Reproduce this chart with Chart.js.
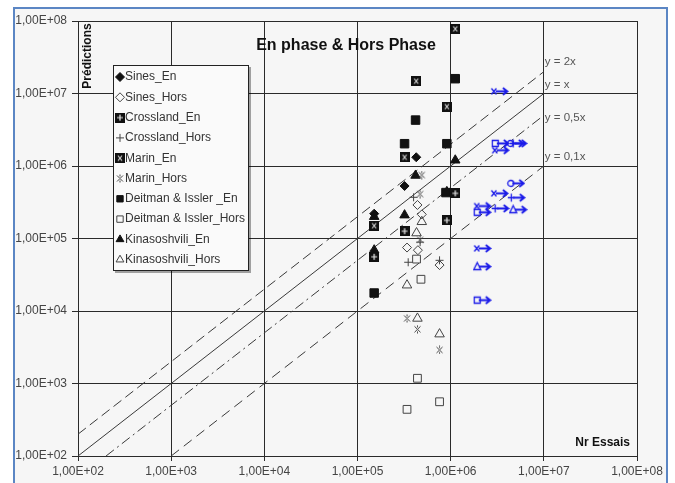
<!DOCTYPE html>
<html>
<head>
<meta charset="utf-8">
<script src="https://cdn.jsdelivr.net/npm/chart.js@4/dist/chart.umd.min.js"></script>
<style>
  html, body { margin: 0; padding: 0; background: #fff; }
  canvas { display: block; }
</style>
</head>
<body>
<canvas id="c" width="675" height="483" style="width:675px;height:483px"></canvas>
<script>
// Axis ticks (log decades) and their labels
const tickValues = [1e2, 1e3, 1e4, 1e5, 1e6, 1e7, 1e8];
const tickLabels = ['1,00E+02', '1,00E+03', '1,00E+04', '1,00E+05', '1,00E+06', '1,00E+07', '1,00E+08'];

// Series: [Nr essais, prédiction]
const sinesEn = [[4.27e5, 1.32e6], [3.2e5, 5.3e5], [1.51e5, 2.2e5]];
const sinesHors = [[4.4e5, 2.9e5], [4.9e5, 2.15e5], [3.4e5, 7.5e4], [4.45e5, 6.9e4], [7.6e5, 4.3e4]];
const crosslandEn = [[1.12e6, 4.2e5], [9.1e5, 1.78e5], [3.2e5, 1.26e5], [1.51e5, 5.6e4]];
const crosslandHors = [[4.0e5, 3.7e5], [4.7e5, 8.9e4], [3.5e5, 4.7e4], [7.6e5, 5.0e4]];
const marinEn = [[1.12e6, 7.8e7], [4.27e5, 1.48e7], [9.1e5, 6.6e6], [3.2e5, 1.32e6], [1.51e5, 1.5e5]];
const marinHors = [[4.9e5, 7.5e5], [4.7e5, 4.1e5], [4.7e5, 9.6e4], [3.4e5, 7.9e3], [4.4e5, 5.6e3], [7.6e5, 2.9e3]];
const deitmanEn = [[1.12e6, 1.6e7], [4.2e5, 4.3e6], [3.2e5, 2.03e6], [9.1e5, 2.03e6], [8.9e5, 4.3e5], [1.51e5, 1.77e4]];
const deitmanHors = [[4.3e5, 5.2e4], [4.8e5, 2.74e4], [4.4e5, 1.18e3], [7.6e5, 5.6e2], [3.4e5, 4.4e2]];
const kinEn = [[1.12e6, 1.2e6], [4.2e5, 7.4e5], [1.51e5, 2.0e5], [3.2e5, 2.1e5], [9.1e5, 4.4e5], [1.51e5, 6.9e4]];
const kinHors = [[4.9e5, 1.7e5], [4.3e5, 1.19e5], [3.4e5, 2.27e4], [4.4e5, 7.9e3], [7.6e5, 4.8e3]];

// Run-outs (non rompues), drawn with a right arrow
const runoutMarin = [[3.33e6, 1.07e7], [3.41e6, 1.65e6], [3.33e6, 4.2e5], [2.18e6, 2.8e5], [2.18e6, 7.3e4]];
const runoutDeitman = [[3.41e6, 2.05e6], [2.18e6, 2.3e5], [2.18e6, 1.41e4]];
const runoutSines = [[4.94e6, 2.05e6], [5.0e6, 5.76e5]];
const runoutCrossland = [[5.3e6, 2.05e6], [5.06e6, 3.66e5], [3.4e6, 2.6e5]];
const runoutKin = [[5.3e6, 2.5e5], [2.18e6, 4.1e4]];

// Reference lines y = k·x (end points)
const line2x = [[1e2, 2e2], [1e7, 2e7]];
const line1x = [[1e2, 1e2], [1e7, 1e7]];
const line05x = [[2e2, 1e2], [1e7, 5e6]];
const line01x = [[1e3, 1e2], [1e7, 1e6]];
const lineLabels = ['y = 2x', 'y = x', 'y = 0,5x', 'y = 0,1x'];

const FONT = '"Liberation Sans", Arial, sans-serif';
Chart.defaults.font.family = FONT;
Chart.defaults.font.size = 12;

const toXY = arr => arr.map(([x, y]) => ({ x, y }));

function glyph(w, h, draw) {
  const c = document.createElement('canvas');
  c.width = w; c.height = h;
  draw(c.getContext('2d'));
  return c;
}

// Black square with a white cross inside
const marinEnStyle = glyph(10, 10, g => {
  g.fillStyle = '#111'; g.fillRect(0, 0, 10, 10);
  g.strokeStyle = '#ddd'; g.lineWidth = 1.2;
  g.beginPath(); g.moveTo(3, 2.5); g.lineTo(7, 7.5); g.moveTo(7, 2.5); g.lineTo(3, 7.5); g.stroke();
});
// Black square with a white plus inside
const crosslandEnStyle = glyph(10, 10, g => {
  g.fillStyle = '#111'; g.fillRect(0, 0, 10, 10);
  g.strokeStyle = '#eee'; g.lineWidth = 1.2;
  g.beginPath(); g.moveTo(5, 2); g.lineTo(5, 8); g.moveTo(2, 5); g.lineTo(8, 5); g.stroke();
});
// Star marker: x with a vertical stroke
const marinHorsStyle = glyph(9, 9, g => {
  g.strokeStyle = '#444'; g.lineWidth = 1;
  g.beginPath(); g.moveTo(1.5, 1.5); g.lineTo(7.5, 7.5); g.moveTo(7.5, 1.5); g.lineTo(1.5, 7.5);
  g.moveTo(4.5, 0.5); g.lineTo(4.5, 2.5); g.moveTo(4.5, 6.5); g.lineTo(4.5, 8.5); g.stroke();
});

function runoutGlyph(symbol) {
  return glyph(19, 11, g => {
    g.strokeStyle = '#1a1ae8'; g.fillStyle = '#1a1ae8'; g.lineWidth = 1.3;
    g.beginPath();
    if (symbol === 'x') { g.moveTo(1.5, 2.5); g.lineTo(6.5, 8.5); g.moveTo(6.5, 2.5); g.lineTo(1.5, 8.5); }
    if (symbol === 'square') { g.rect(1.5, 2.5, 6, 6); }
    if (symbol === 'circle') { g.arc(4.5, 5.5, 3, 0, Math.PI * 2); }
    if (symbol === 'plus') { g.moveTo(4.5, 1.5); g.lineTo(4.5, 9.5); g.moveTo(1, 5.5); g.lineTo(8, 5.5); }
    if (symbol === 'triangle') { g.moveTo(4.5, 1.5); g.lineTo(8, 8.5); g.lineTo(1, 8.5); g.closePath(); }
    g.stroke();
    g.lineWidth = 1.9;
    g.beginPath(); g.moveTo(6, 5.5); g.lineTo(17, 5.5);
    g.moveTo(13, 2); g.lineTo(17.5, 5.5); g.lineTo(13, 9); g.stroke();
  });
}

const HOLLOW = '#444';
function pts(label, data, style, extra) {
  return Object.assign({
    type: 'scatter', label, data: toXY(data),
    pointStyle: style, pointRadius: 5, pointBorderWidth: 1,
    pointBackgroundColor: '#111', pointBorderColor: '#111', showLine: false
  }, extra || {});
}
function refLine(label, data, dash) {
  return {
    type: 'scatter', label, data: toXY(data), showLine: true, pointRadius: 0,
    borderColor: '#3a3a3a', borderWidth: 1, borderDash: dash, fill: false, inLegend: false
  };
}

const datasets = [
  pts('Sines_En', sinesEn, 'rectRot', { pointRadius: 4.5 }),
  pts('Sines_Hors', sinesHors, 'rectRot', { pointRadius: 4.5, pointBackgroundColor: 'rgba(0,0,0,0)', pointBorderColor: HOLLOW }),
  pts('Crossland_En', crosslandEn, crosslandEnStyle),
  pts('Crossland_Hors', crosslandHors, 'cross', { pointRadius: 4, pointBorderColor: HOLLOW }),
  pts('Marin_En', marinEn, marinEnStyle),
  pts('Marin_Hors', marinHors, marinHorsStyle),
  pts('Deitman & Issler _En', deitmanEn, 'rect', { pointRadius: 6 }),
  pts('Deitman & Issler_Hors', deitmanHors, 'rect', { pointRadius: 5.5, pointBackgroundColor: 'rgba(0,0,0,0)', pointBorderColor: HOLLOW }),
  pts('Kinasoshvili_En', kinEn, 'triangle', { pointRadius: 5.5 }),
  pts('Kinasoshvili_Hors', kinHors, 'triangle', { pointRadius: 5.5, pointBackgroundColor: 'rgba(0,0,0,0)', pointBorderColor: HOLLOW }),
  pts('Marin_Hors →', runoutMarin, runoutGlyph('x'), { inLegend: false }),
  pts('Deitman & Issler_Hors →', runoutDeitman, runoutGlyph('square'), { inLegend: false }),
  pts('Sines_Hors →', runoutSines, runoutGlyph('circle'), { inLegend: false }),
  pts('Crossland_Hors →', runoutCrossland, runoutGlyph('plus'), { inLegend: false }),
  pts('Kinasoshvili_Hors →', runoutKin, runoutGlyph('triangle'), { inLegend: false }),
  refLine('y = 2x', line2x, [10, 5]),
  refLine('y = x', line1x, []),
  refLine('y = 0,5x', line05x, [10, 4, 2, 4]),
  refLine('y = 0,1x', line01x, [10, 6])
];

// Page frame and light background
const framePlugin = {
  id: 'frame',
  beforeDraw(chart) {
    const ctx = chart.ctx;
    ctx.save();
    ctx.fillStyle = '#fff';
    ctx.fillRect(0, 0, chart.width, chart.height);
    ctx.fillStyle = '#f6f6f6';
    ctx.fillRect(14, 8, 653, chart.height - 8);
    ctx.strokeStyle = '#5b86c4';
    ctx.lineWidth = 2;
    ctx.beginPath();
    ctx.moveTo(14, chart.height); ctx.lineTo(14, 8); ctx.lineTo(667, 8); ctx.lineTo(667, chart.height);
    ctx.stroke();
    ctx.restore();
  }
};

// Title, axis names, reference line names and the boxed legend
const annotatePlugin = {
  id: 'annotate',
  afterDraw(chart) {
    const ctx = chart.ctx;
    const xs = chart.scales.x, ys = chart.scales.y;
    ctx.save();
    ctx.fillStyle = '#111';
    ctx.font = 'bold 16px ' + FONT;
    ctx.textAlign = 'center'; ctx.textBaseline = 'alphabetic';
    ctx.fillText('En phase & Hors Phase', 346, 50);

    ctx.font = 'bold 12px ' + FONT;
    ctx.textAlign = 'right'; ctx.textBaseline = 'middle';
    ctx.fillText('Nr Essais', xs.right - 7, ys.bottom - 13);

    ctx.save();
    ctx.translate(xs.left + 10, ys.top + 35);
    ctx.rotate(-Math.PI / 2);
    ctx.textAlign = 'center';
    ctx.font = 'bold 12px ' + FONT;
    ctx.fillText('Prédictions', 0, 0);
    ctx.restore();

    // names of reference lines next to their end points
    const ends = [line2x, line1x, line05x, line01x];
    const offsets = [-10, -9, 3, -9];
    ctx.font = '11.5px ' + FONT;
    ctx.fillStyle = '#555';
    ctx.textAlign = 'left'; ctx.textBaseline = 'middle';
    ends.forEach((ln, i) => {
      const [ex, ey] = ln[ln.length - 1];
      ctx.fillText(lineLabels[i], xs.getPixelForValue(ex) + 1, ys.getPixelForValue(ey) + offsets[i]);
    });

    // legend box
    const lx = 113, ly = 65, lw = 136, lh = 206;
    ctx.fillStyle = 'rgba(0,0,0,0.35)';
    ctx.fillRect(lx + 2, ly + 2, lw, lh);
    ctx.fillStyle = '#fafafa';
    ctx.fillRect(lx, ly, lw, lh);
    ctx.strokeStyle = '#222'; ctx.lineWidth = 1;
    ctx.strokeRect(lx + 0.5, ly + 0.5, lw - 1, lh - 1);
    const items = chart.data.datasets.filter(d => d.inLegend !== false);
    items.forEach((d, i) => {
      const cy = ly + 12 + i * 20.3;
      ctx.fillStyle = d.pointBackgroundColor;
      ctx.strokeStyle = d.pointBorderColor;
      ctx.lineWidth = d.pointBorderWidth;
      ctx.setLineDash([]);
      Chart.helpers.drawPoint(ctx, { pointStyle: d.pointStyle, radius: Math.min(d.pointRadius, 4.5), rotation: 0, borderWidth: 1 }, lx + 7, cy);
      ctx.fillStyle = '#333';
      ctx.font = '12px ' + FONT;
      ctx.textAlign = 'left'; ctx.textBaseline = 'middle';
      ctx.fillText(d.label, lx + 12, cy);
    });
    ctx.restore();
  }
};

const decadeTicks = scale => { scale.ticks = tickValues.map(v => ({ value: v })); };
const labelFor = v => {
  const i = tickValues.findIndex(t => Math.abs(Math.log10(t) - Math.log10(v)) < 1e-6);
  return i >= 0 ? tickLabels[i] : '';
};

new Chart(document.getElementById('c'), {
  type: 'scatter',
  data: { datasets },
  options: {
    responsive: false,
    animation: false,
    events: [],
    devicePixelRatio: 1,
    layout: { padding: { left: 0, top: 21, right: 38, bottom: 0 } },
    plugins: { legend: { display: false }, tooltip: { enabled: false }, title: { display: false } },
    scales: {
      x: {
        type: 'logarithmic', min: 1e2, max: 1e8,
        afterBuildTicks: decadeTicks,
        afterFit: s => { s.height = 27; },
        grid: { color: '#2a2a2a', lineWidth: 1, tickLength: 5, drawTicks: true },
        border: { color: '#2a2a2a', width: 1 },
        ticks: { color: '#444', padding: 3, maxRotation: 0, autoSkip: false, callback: v => labelFor(v), font: { size: 12 } }
      },
      y: {
        type: 'logarithmic', min: 1e2, max: 1e8,
        afterBuildTicks: decadeTicks,
        afterFit: s => { s.width = 78; },
        grid: { color: '#2a2a2a', lineWidth: 1, tickLength: 6, drawTicks: true },
        border: { color: '#2a2a2a', width: 1 },
        ticks: { color: '#444', padding: 5, autoSkip: false, callback: v => labelFor(v), font: { size: 12 } }
      }
    }
  },
  plugins: [framePlugin, annotatePlugin]
});
</script>
</body>
</html>
